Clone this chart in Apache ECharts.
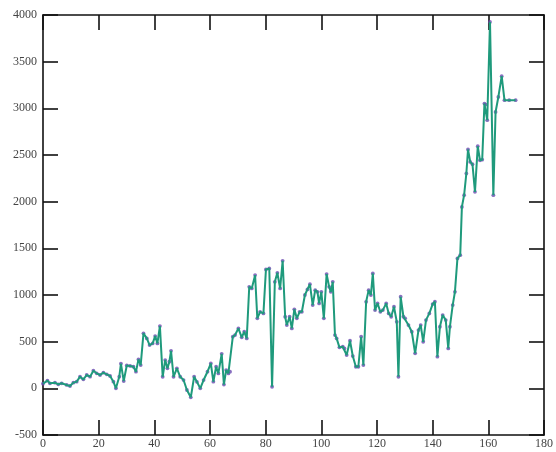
<!DOCTYPE html>
<html>
<head>
<meta charset="utf-8">
<script src="https://cdn.jsdelivr.net/npm/echarts@6/dist/echarts.min.js"></script>
<style>html,body{margin:0;padding:0;background:#fff}#c{width:556px;height:452px}</style>
</head>
<body>
<div id="c"></div>
<script>
var xs = [0,1.6,2.5,4.3,5.5,6.7,8.5,9.7,10.9,12.1,13.3,14.5,15.7,16.9,18.1,19.3,20.5,21.7,22.9,24.1,25.3,26.2,27.4,28.0,29.0,30.1,31.3,
32.5,33.4,34.3,35.1,36.1,37.3,38.3,39.4,40.3,41.1,42.0,43.0,43.9,44.7,45.4,46.0,46.9,48.1,49.3,50.5,51.7,53.1,54.3,55.3,56.5,57.7,59.1,60.3,61.2,62.2,63.0,64.2,65.0,
65.8,66.6,67.2,68.2,69.0,70.2,71.4,72.3,73.2,74.1,75.0,76.2,77.0,78.0,79.2,80.1,81.3,82.3,83.3,84.2,85.2,86.1,87.0,87.6,88.6,89.4,90.3,91.2,92.2,93.0,94.1,95.0,95.9,
96.9,97.8,98.6,99.2,100.0,100.9,101.9,102.8,103.4,104.1,104.9,105.5,106.5,107.7,108.3,109.1,110.3,111.3,112.4,113.3,114.3,115.1,116.1,117.0,117.8,118.5,119.3,120.2,121.2,122.1,123.3,124.2,125.1,126.1,127.1,127.7,128.5,129.5,
130.1,131.3,132.5,133.7,134.9,135.7,136.6,137.6,138.8,140.0,140.8,141.7,142.6,143.6,144.7,145.6,146.2,147.2,148.0,148.9,149.9,150.5,151.3,152.1,152.7,153.5,154.3,155.2,156.2,157.0,157.8,158.6,159.0,159.6,160.6,161.8,162.6,163.6,164.8,165.8,167.5,169.8];
var ys = [50,82,54,61,43,54,36,25,61,71,125,96,143,125,189,161,143,168,150,132,71,0,125,265,78,245,240,
231,178,310,249,589,535,463,481,560,481,667,124,303,214,285,402,124,214,124,89,-18,-96,124,70,0,89,178,267,71,231,160,370,40,
196,160,178,553,571,642,546,606,535,1088,1070,1213,750,820,803,1274,1285,17,1141,1238,1070,1366,767,678,767,642,846,750,820,820,1000,1060,1115,
892,1052,1034,910,1034,750,1224,1088,1034,1141,571,535,439,446,428,357,510,346,231,231,553,249,927,1052,1000,1231,838,910,820,838,910,803,767,874,713,124,981,767,
750,678,606,375,624,678,499,731,803,903,928,339,660,785,731,428,660,892,1034,1392,1427,1944,2070,2302,2559,2426,2401,2105,2594,2444,2450,3051,3040,2873,3925,2070,2961,3122,3344,3087,3087,3087];
var xTicks = [0,20,40,60,80,100,120,140,160,180];
var yTicks = [-500,0,500,1000,1500,2000,2500,3000,3500,4000];

var pts = xs.map(function(x,i){return [x, ys[i]];});
var font = '"Liberation Serif", "DejaVu Serif", serif';
var axisLineStyle = {color:'#111', width:1.6};
function plain(v){ return String(v); }
function xAx(pos, show){
  return {type:'value', position:pos, min:xTicks[0], max:xTicks[xTicks.length-1], interval:20,
    axisLine:{show:true, onZero:false, lineStyle:axisLineStyle},
    axisTick:{show:true, inside:true, length:15, lineStyle:{color:'#111', width:1.6}},
    axisLabel:{show:show, color:'#444', fontFamily:font, fontSize:12, margin:3, formatter:plain},
    splitLine:{show:false}};
}
function yAx(pos, show){
  return {type:'value', position:pos, min:yTicks[0], max:yTicks[yTicks.length-1], interval:500,
    axisLine:{show:true, onZero:false, lineStyle:axisLineStyle},
    axisTick:{show:true, inside:true, length:15, lineStyle:{color:'#111', width:1.6}},
    axisLabel:{show:show, color:'#444', fontFamily:font, fontSize:12, margin:6, formatter:plain},
    splitLine:{show:false}};
}
var chart = echarts.init(document.getElementById('c'), null, {renderer:'canvas'});
chart.setOption({
  animation:false,
  backgroundColor:'#fff',
  grid:{left:43, right:11, top:15, bottom:17},
  xAxis:[xAx('bottom', true), xAx('top', false)],
  yAxis:[yAx('left', true), yAx('right', false)],
  series:[
    {type:'scatter', data:pts, symbol:'circle', symbolSize:3.8, itemStyle:{color:'#6a4bb0'}, z:1, silent:true},
    {type:'line', data:pts, showSymbol:false, lineStyle:{color:'#1f9a7c', width:2}, z:2, silent:true}
  ]
});
</script>
</body>
</html>
